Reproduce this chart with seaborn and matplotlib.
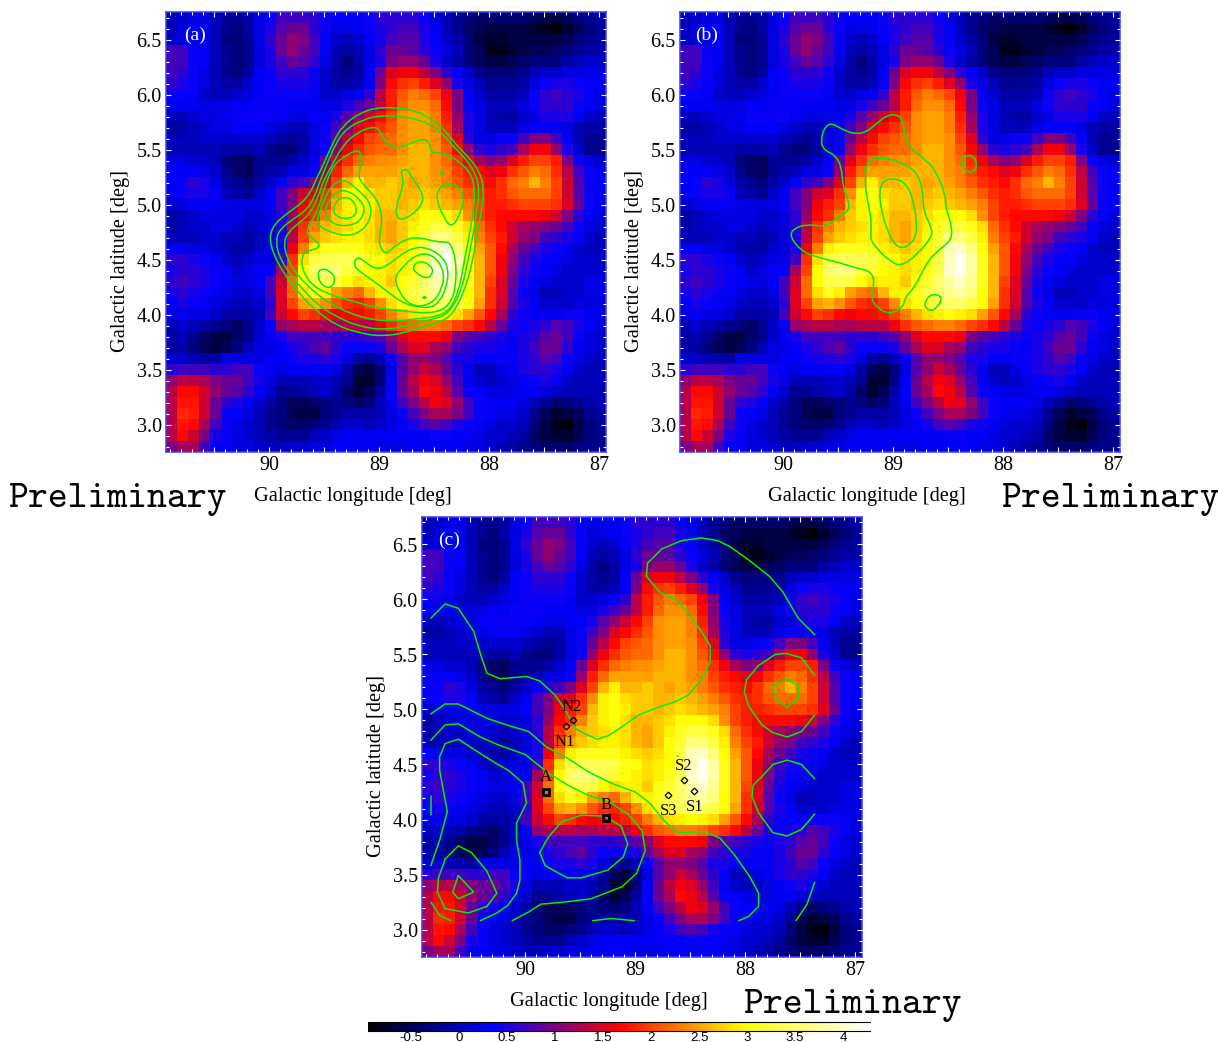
import matplotlib
matplotlib.use("Agg")
import matplotlib.pyplot as plt
from matplotlib.colors import LinearSegmentedColormap
from matplotlib.path import Path
from matplotlib.patches import PathPatch
from matplotlib.transforms import ScaledTranslation
import numpy as np
import seaborn as sns

sns.set_theme(style="white")
plt.rcParams['font.family'] = ['Liberation Serif', 'DejaVu Serif']

# ---- map values (rows top to bottom, b = 6.75 .. 2.75; columns l = 90.94 .. 86.94)
map_rows = [
[0.0,0.1,0.2,0.2,0.0,-0.2,-0.2,-0.1,0.2,0.4,0.7,0.7,0.7,0.6,0.4,0.3,0.3,0.3,0.4,0.6,0.6,0.6,0.6,0.4,0.2,0.0,-0.2,-0.3,-0.4,-0.4,-0.4,-0.4,-0.4,-0.5,-0.6,-0.6,-0.5,-0.3,-0.2,-0.1],
[0.0,0.2,0.3,0.3,0.0,-0.2,-0.3,-0.1,0.2,0.5,0.8,0.9,0.9,0.6,0.4,0.2,0.2,0.3,0.4,0.5,0.6,0.7,0.7,0.5,0.3,0.0,-0.2,-0.4,-0.5,-0.6,-0.6,-0.6,-0.6,-0.7,-0.8,-0.9,-0.7,-0.5,-0.3,-0.2],
[0.1,0.2,0.3,0.3,0.0,-0.3,-0.3,-0.2,0.2,0.6,0.9,1.1,1.0,0.7,0.3,0.1,0.0,0.1,0.3,0.5,0.7,0.8,0.8,0.5,0.3,0.1,-0.1,-0.3,-0.6,-0.7,-0.7,-0.6,-0.6,-0.6,-0.6,-0.6,-0.5,-0.3,-0.2,-0.1],
[0.7,0.7,0.4,0.3,0.0,-0.2,-0.3,-0.2,0.2,0.5,0.9,1.1,0.9,0.7,0.3,0.0,-0.1,0.0,0.2,0.6,0.9,0.9,0.8,0.6,0.4,0.2,0.0,-0.3,-0.5,-0.8,-0.8,-0.7,-0.6,-0.5,-0.5,-0.4,-0.3,-0.2,-0.1,-0.1],
[0.7,0.7,0.4,0.3,0.0,-0.2,-0.3,-0.2,0.2,0.5,0.7,0.9,0.8,0.6,0.2,-0.1,-0.3,-0.1,0.2,0.5,1.0,1.1,1.1,0.9,0.5,0.1,-0.1,-0.3,-0.5,-0.6,-0.6,-0.5,-0.4,-0.3,-0.3,-0.3,-0.1,0.0,0.1,0.1],
[0.7,0.6,0.4,0.2,0.0,-0.2,-0.3,-0.1,0.3,0.4,0.6,0.6,0.6,0.4,0.1,-0.1,-0.2,-0.1,0.3,0.9,1.5,1.6,1.6,1.3,1.0,0.6,0.3,0.1,-0.2,-0.3,-0.3,-0.3,-0.2,0.0,0.1,0.1,0.2,0.2,0.2,0.2],
[0.6,0.5,0.4,0.2,0.0,-0.1,-0.1,0.1,0.3,0.4,0.5,0.5,0.5,0.4,0.1,-0.1,-0.1,0.0,0.3,1.0,1.7,1.9,2.0,1.8,1.5,1.1,0.5,0.2,0.0,-0.2,-0.2,-0.2,-0.1,0.2,0.4,0.5,0.5,0.4,0.3,0.3],
[0.4,0.4,0.3,0.1,0.0,0.0,0.1,0.2,0.3,0.4,0.4,0.4,0.4,0.3,0.1,0.1,0.2,0.3,0.6,1.3,1.8,2.1,2.3,2.2,2.0,1.6,1.0,0.3,0.1,-0.1,-0.1,-0.1,0.0,0.4,0.6,0.7,0.6,0.5,0.3,0.2],
[0.3,0.3,0.3,0.2,0.2,0.2,0.3,0.3,0.4,0.4,0.4,0.3,0.3,0.3,0.2,0.2,0.5,0.7,0.9,1.3,1.8,2.2,2.4,2.4,2.2,1.7,1.0,0.4,0.2,0.0,0.0,0.0,0.2,0.4,0.6,0.6,0.6,0.4,0.3,0.2],
[0.0,0.0,0.1,0.2,0.2,0.3,0.4,0.4,0.4,0.4,0.3,0.2,0.2,0.3,0.3,0.5,0.8,1.1,1.4,1.7,2.0,2.4,2.5,2.5,2.3,1.8,1.1,0.5,0.2,0.0,-0.1,-0.1,0.1,0.2,0.5,0.5,0.5,0.3,0.1,0.0],
[-0.1,-0.1,0.0,0.1,0.2,0.2,0.3,0.3,0.3,0.2,0.1,0.0,0.0,0.2,0.4,0.7,1.0,1.5,1.7,1.9,2.1,2.4,2.5,2.5,2.3,1.9,1.2,0.5,0.2,0.0,0.0,0.0,0.2,0.3,0.3,0.3,0.2,0.0,-0.1,-0.1],
[0.0,0.0,0.0,0.1,0.1,0.1,0.1,0.1,0.1,0.0,-0.1,-0.2,-0.1,0.2,0.4,0.9,1.3,1.7,2.0,2.1,2.2,2.4,2.5,2.5,2.4,2.0,1.5,0.6,0.2,0.2,0.4,0.4,0.7,1.0,1.0,0.7,0.3,0.0,-0.2,-0.2],
[0.0,0.0,0.0,0.0,0.0,-0.1,-0.1,-0.1,0.0,-0.2,-0.3,-0.3,-0.1,0.2,0.4,1.1,1.6,1.9,2.1,2.2,2.2,2.4,2.6,2.6,2.4,2.1,1.7,1.1,0.6,0.5,0.6,0.7,1.2,1.6,1.6,1.1,0.5,0.1,-0.2,-0.2],
[0.2,0.2,0.1,0.1,0.0,-0.3,-0.4,-0.5,-0.2,-0.2,-0.2,-0.1,0.1,0.3,0.9,1.5,1.9,2.2,2.3,2.4,2.4,2.5,2.6,2.6,2.4,2.2,1.9,1.6,1.2,1.0,1.1,1.5,1.8,2.0,2.0,1.8,1.0,0.4,0.2,0.1],
[0.3,0.3,0.3,0.2,0.1,-0.2,-0.4,-0.5,-0.2,-0.1,0.0,0.2,0.2,0.4,1.1,1.8,2.2,2.5,2.5,2.5,2.5,2.6,2.6,2.6,2.4,2.3,2.0,1.8,1.7,1.5,1.6,1.9,2.1,2.3,2.2,1.9,1.3,0.7,0.4,0.3],
[0.3,0.4,0.6,0.5,0.2,-0.1,-0.2,-0.3,-0.1,0.1,0.3,0.6,0.7,1.0,1.5,2.0,2.6,2.9,2.6,2.6,2.7,2.6,2.5,2.6,2.5,2.3,2.1,1.9,1.8,1.7,1.9,2.2,2.3,2.6,2.3,2.0,1.4,0.8,0.4,0.3],
[0.3,0.4,0.5,0.5,0.4,0.0,-0.1,-0.2,0.1,0.3,0.7,1.0,1.4,1.5,1.9,2.4,2.9,3.0,2.8,2.7,2.7,2.6,2.6,2.7,2.6,2.5,2.3,2.1,1.9,1.8,1.9,2.1,2.2,2.2,2.2,2.0,1.4,0.8,0.4,0.3],
[0.1,0.2,0.3,0.3,0.3,0.2,0.2,0.2,0.2,0.3,0.7,1.0,1.6,1.8,2.0,2.6,2.9,3.0,2.9,2.7,2.7,2.6,2.7,2.8,2.7,2.6,2.5,2.3,2.0,1.8,1.8,1.9,2.0,2.0,2.0,1.9,1.5,0.9,0.4,0.3],
[-0.1,0.0,0.1,0.2,0.2,0.2,0.2,0.1,0.1,0.2,0.6,1.1,1.7,1.9,2.3,2.7,2.9,3.0,2.8,2.6,2.6,2.7,2.8,3.0,3.0,3.0,2.8,2.4,2.0,1.8,1.7,1.7,1.7,1.7,1.6,1.4,1.0,0.6,0.3,0.2],
[-0.1,0.0,0.1,0.1,0.2,0.2,0.1,0.0,0.1,0.2,0.6,1.3,1.9,2.3,2.6,2.7,2.8,2.9,2.8,2.6,2.5,2.7,2.9,3.1,3.3,3.3,3.1,2.8,2.2,1.9,1.7,1.4,1.2,1.1,1.0,0.9,0.7,0.4,0.2,0.1],
[0.0,0.0,0.0,0.1,0.1,0.0,0.0,-0.1,0.0,0.2,0.5,1.3,2.0,2.5,2.7,2.8,2.9,2.9,2.8,2.6,2.5,2.7,3.0,3.2,3.6,3.6,3.3,2.9,2.3,2.0,1.8,1.4,1.1,1.0,0.7,0.6,0.5,0.3,0.1,0.0],
[0.3,0.3,0.2,0.2,0.1,0.0,-0.1,-0.1,0.1,0.2,0.5,1.6,2.3,2.9,3.1,3.1,3.1,3.1,2.9,2.8,2.7,2.8,3.0,3.3,3.9,4.0,3.6,3.0,2.5,2.1,1.7,1.2,0.9,0.7,0.5,0.4,0.3,0.1,0.0,0.0],
[0.6,0.6,0.5,0.4,0.3,0.1,0.0,0.1,0.2,0.2,0.7,1.9,2.8,3.3,3.4,3.4,3.4,3.3,3.1,3.0,2.8,2.9,3.0,3.3,3.9,4.2,3.8,3.1,2.6,2.1,1.6,1.1,0.7,0.5,0.4,0.3,0.2,0.1,0.1,0.1],
[0.5,0.6,0.6,0.5,0.4,0.3,0.1,0.2,0.3,0.3,1.2,2.0,3.0,3.5,3.6,3.6,3.3,3.2,3.0,2.9,2.8,2.9,3.1,3.4,4.0,4.2,3.8,3.1,2.6,2.1,1.6,1.0,0.6,0.4,0.3,0.2,0.1,0.1,0.1,0.1],
[0.6,0.7,0.6,0.5,0.4,0.3,0.2,0.2,0.3,0.7,1.4,2.2,3.0,3.3,3.4,3.3,3.0,2.8,2.9,2.9,2.7,3.0,3.2,3.5,3.8,4.0,3.7,3.1,2.6,2.0,1.5,0.9,0.5,0.3,0.2,0.1,0.1,0.1,0.2,0.2],
[0.5,0.6,0.5,0.4,0.3,0.2,0.1,0.1,0.2,0.7,1.5,2.2,2.8,3.1,2.9,2.5,2.3,2.2,2.6,2.9,2.9,3.1,3.3,3.5,3.7,3.8,3.6,3.0,2.6,1.9,1.5,0.8,0.4,0.2,0.0,0.0,0.1,0.1,0.2,0.2],
[0.3,0.5,0.4,0.3,0.2,0.1,0.0,0.0,0.1,0.6,1.5,2.0,2.5,2.6,2.4,2.1,1.9,1.8,2.0,2.4,2.8,3.0,3.2,3.4,3.5,3.5,3.3,3.0,2.5,1.9,1.4,0.8,0.5,0.3,0.1,0.1,0.1,0.2,0.2,0.2],
[0.2,0.3,0.2,0.2,0.1,-0.1,-0.1,-0.1,0.0,0.7,1.4,1.7,2.0,1.9,1.7,1.6,1.7,1.7,1.8,2.0,2.3,2.6,2.8,2.9,3.0,2.9,2.8,2.5,2.1,1.7,1.2,0.6,0.4,0.3,0.3,0.3,0.4,0.4,0.3,0.2],
[0.0,0.1,0.0,-0.1,-0.2,-0.3,-0.4,-0.2,0.1,0.4,1.1,1.2,1.3,1.3,1.2,1.2,1.3,1.3,1.3,1.6,1.9,2.1,2.2,2.3,2.3,2.2,2.0,1.9,1.7,1.3,0.9,0.5,0.4,0.5,0.6,0.8,0.7,0.5,0.3,0.2],
[-0.1,0.0,-0.2,-0.4,-0.6,-0.6,-0.4,-0.2,0.1,0.3,0.5,0.7,0.7,0.7,0.7,0.6,0.6,0.6,0.7,0.8,1.1,1.5,1.7,1.7,1.7,1.6,1.0,0.8,0.7,0.6,0.5,0.4,0.5,0.6,0.8,0.9,0.7,0.4,0.2,0.1],
[-0.1,-0.1,-0.3,-0.5,-0.6,-0.5,-0.3,0.0,0.2,0.2,0.3,0.5,0.6,0.75,0.85,0.6,0.4,0.4,0.4,0.5,0.9,1.2,1.5,1.5,1.2,1.1,0.7,0.6,0.5,0.5,0.4,0.3,0.5,0.7,0.9,0.9,0.6,0.3,0.2,0.1],
[0.1,0.1,0.0,-0.1,-0.1,0.2,0.2,0.2,0.2,0.3,0.3,0.4,0.5,0.5,0.6,0.5,0.2,-0.1,-0.2,0.0,0.4,0.8,1.1,1.1,1.0,0.8,0.5,0.5,0.3,0.3,0.4,0.4,0.5,0.6,0.8,0.7,0.4,0.2,0.1,0.0],
[0.6,0.7,0.7,0.7,0.6,0.6,0.7,0.7,0.4,0.3,0.2,0.3,0.3,0.3,0.3,0.2,-0.1,-0.5,-0.6,-0.3,0.2,0.8,1.1,1.4,1.2,0.9,0.6,0.3,0.0,0.0,0.2,0.3,0.5,0.6,0.6,0.5,0.3,0.1,0.0,0.0],
[1.1,1.3,1.3,1.2,1.0,0.9,0.9,0.7,0.5,0.2,0.0,0.0,0.0,0.1,0.1,0.0,-0.2,-0.7,-0.7,-0.3,0.3,0.9,1.3,1.6,1.5,1.1,0.7,0.3,0.1,0.0,0.1,0.2,0.3,0.4,0.5,0.3,0.1,0.0,0.0,0.0],
[1.3,1.7,1.7,1.4,1.1,0.9,0.8,0.6,0.3,0.1,-0.2,-0.2,-0.1,0.0,0.1,-0.1,-0.4,-0.7,-0.5,-0.1,0.3,0.9,1.2,1.7,1.6,1.3,0.8,0.4,0.3,0.2,0.2,0.2,0.3,0.3,0.2,0.1,0.0,0.0,0.0,0.0],
[1.3,1.75,1.75,1.4,0.9,0.6,0.5,0.3,0.1,-0.1,-0.3,-0.5,-0.5,-0.4,-0.3,-0.2,-0.3,-0.4,-0.3,0.0,0.3,0.7,1.0,1.3,1.6,1.5,1.1,0.7,0.4,0.3,0.3,0.3,0.2,0.0,-0.2,-0.4,-0.3,-0.2,-0.1,0.0],
[1.3,1.85,1.8,1.4,0.9,0.4,0.3,0.2,0.0,-0.2,-0.3,-0.5,-0.6,-0.6,-0.3,-0.2,-0.1,-0.1,-0.1,0.0,0.2,0.4,0.7,1.0,1.2,1.2,1.0,0.7,0.4,0.3,0.2,0.2,0.1,-0.2,-0.5,-0.7,-0.6,-0.5,-0.2,-0.1],
[1.3,1.75,1.7,1.2,0.7,0.4,0.2,0.1,0.0,-0.2,-0.3,-0.4,-0.4,-0.3,-0.2,0.0,0.1,0.1,0.0,0.1,0.2,0.3,0.5,0.7,0.8,0.7,0.5,0.4,0.3,0.2,0.1,0.1,0.0,-0.3,-0.6,-0.8,-0.9,-0.6,-0.3,-0.2],
[1.3,1.7,1.4,1.0,0.5,0.4,0.2,0.1,0.0,-0.1,-0.2,-0.2,-0.2,0.0,0.1,0.2,0.3,0.3,0.3,0.3,0.3,0.3,0.3,0.3,0.4,0.4,0.3,0.3,0.2,0.1,0.1,0.0,-0.1,-0.4,-0.6,-0.7,-0.7,-0.5,-0.3,-0.2],
[1.0,1.2,1.2,0.7,0.3,0.3,0.2,0.2,0.1,0.0,0.0,0.1,0.1,0.2,0.2,0.3,0.3,0.3,0.3,0.2,0.2,0.2,0.3,0.3,0.3,0.3,0.3,0.2,0.2,0.1,0.0,-0.1,-0.2,-0.3,-0.4,-0.4,-0.4,-0.3,-0.2,-0.2],
]

# ---- contours in (l, b) degrees
contours_a = [
[(90.00,4.69),(89.965,4.81),(89.84,4.92),(89.72,5.00),(89.63,5.10),(89.57,5.24),(89.51,5.36),(89.42,5.57),(89.33,5.72),(89.18,5.83),(89.03,5.88),(88.87,5.88),(88.69,5.86),(88.51,5.77),(88.39,5.66),(88.30,5.54),(88.18,5.42),(88.09,5.30),(88.05,5.15),(88.07,4.94),(88.12,4.69),(88.16,4.45),(88.22,4.24),(88.30,4.06),(88.39,3.95),(88.60,3.89),(88.75,3.84),(88.96,3.80),(89.18,3.83),(89.39,3.90),(89.57,4.03),(89.72,4.18),(89.86,4.36),(89.96,4.54)],
[(89.94,4.69),(89.90,4.78),(89.78,4.87),(89.66,4.95),(89.59,5.07),(89.54,5.21),(89.48,5.36),(89.39,5.57),(89.30,5.69),(89.15,5.77),(88.995,5.81),(88.81,5.80),(88.63,5.77),(88.48,5.69),(88.39,5.60),(88.31,5.51),(88.21,5.41),(88.12,5.27),(88.09,5.12),(88.12,4.90),(88.16,4.66),(88.21,4.42),(88.25,4.24),(88.33,4.07),(88.42,3.98),(88.60,3.94),(88.78,3.89),(88.96,3.86),(89.18,3.89),(89.37,3.97),(89.54,4.07),(89.68,4.21),(89.81,4.36),(89.92,4.54)],
[(89.87,4.65),(89.83,4.75),(89.72,4.84),(89.63,4.92),(89.56,5.06),(89.51,5.21),(89.43,5.36),(89.33,5.54),(89.21,5.65),(89.06,5.71),(88.995,5.68),(88.95,5.57),(88.84,5.50),(88.69,5.57),(88.57,5.60),(88.54,5.53),(88.53,5.47),(88.42,5.47),(88.27,5.39),(88.16,5.27),(88.13,5.12),(88.15,4.90),(88.19,4.69),(88.24,4.42),(88.28,4.21),(88.36,4.04),(88.48,3.98),(88.66,3.96),(88.87,3.94),(89.06,3.95),(89.27,4.01),(89.45,4.10),(89.60,4.21),(89.75,4.36),(89.84,4.51)],
[(89.70,4.55),(89.64,4.58),(89.54,4.61),(89.56,4.66),(89.65,4.72),(89.66,4.78),(89.59,4.89),(89.54,5.01),(89.50,5.15),(89.42,5.36),(89.30,5.45),(89.19,5.50),(89.16,5.44),(89.18,5.30),(89.19,5.24),(89.12,5.15),(89.03,5.06),(88.98,4.93),(88.98,4.80),(89.01,4.65),(88.95,4.54),(88.86,4.62),(88.75,4.69),(88.63,4.70),(88.48,4.66),(88.40,4.66),(88.36,4.65),(88.32,4.56),(88.30,4.41),(88.31,4.25),(88.34,4.13),(88.42,4.04),(88.57,4.01),(88.78,4.03),(89.03,4.06),(89.27,4.13),(89.48,4.19),(89.63,4.28),(89.71,4.43)],
[(89.57,4.83),(89.54,4.95),(89.48,5.09),(89.42,5.19),(89.31,5.23),(89.19,5.13),(89.09,5.03),(89.07,4.91),(89.13,4.78),(89.27,4.71),(89.42,4.74),(89.51,4.78)],
[(89.50,4.90),(89.47,5.03),(89.37,5.13),(89.27,5.12),(89.16,5.03),(89.13,4.94),(89.19,4.83),(89.33,4.80),(89.43,4.83)],
[(89.42,4.95),(89.39,5.04),(89.31,5.07),(89.24,5.04),(89.20,4.95),(89.24,4.88),(89.33,4.87),(89.40,4.90)],
[(88.81,5.31),(88.74,5.32),(88.71,5.25),(88.62,5.13),(88.60,5.03),(88.66,4.94),(88.78,4.86),(88.84,4.875),(88.85,4.98),(88.80,5.12),(88.78,5.22)],
[(88.48,5.04),(88.47,5.13),(88.39,5.20),(88.28,5.16),(88.23,5.07),(88.25,4.95),(88.34,4.78),(88.42,4.89)],
[(88.45,5.31),(88.40,5.29),(88.44,5.27)],
[(89.24,4.45),(89.20,4.53),(89.12,4.47),(89.03,4.41),(88.93,4.44),(88.81,4.54),(88.69,4.61),(88.57,4.61),(88.43,4.53),(88.37,4.41),(88.39,4.25),(88.45,4.12),(88.53,4.06),(88.66,4.07),(88.78,4.10),(88.93,4.21),(89.06,4.31),(89.16,4.375)],
[(88.87,4.33),(88.78,4.44),(88.69,4.53),(88.57,4.56),(88.47,4.50),(88.41,4.375),(88.43,4.24),(88.50,4.12),(88.62,4.07),(88.74,4.10),(88.81,4.19)],
[(88.70,4.42),(88.66,4.48),(88.59,4.48),(88.51,4.42),(88.53,4.345),(88.59,4.33),(88.66,4.375)],
[(89.56,4.405),(89.48,4.415),(89.40,4.345),(89.42,4.26),(89.48,4.24),(89.55,4.30)],
[(88.61,4.16),(88.57,4.16),(88.59,4.14)],
]
contours_b = [
[(89.94,4.71),(89.91,4.78),(89.79,4.82),(89.64,4.80),(89.58,4.83),(89.49,4.89),(89.40,4.95),(89.41,5.04),(89.46,5.16),(89.47,5.34),(89.53,5.45),(89.64,5.50),(89.66,5.60),(89.62,5.71),(89.56,5.74),(89.46,5.68),(89.35,5.64),(89.24,5.66),(89.15,5.74),(89.06,5.81),(88.97,5.82),(88.91,5.77),(88.90,5.62),(88.85,5.51),(88.70,5.40),(88.61,5.30),(88.53,5.10),(88.52,4.95),(88.47,4.81),(88.47,4.68),(88.58,4.59),(88.68,4.50),(88.76,4.34),(88.83,4.22),(88.89,4.16),(88.91,4.07),(89.03,4.00),(89.15,4.06),(89.21,4.16),(89.17,4.28),(89.20,4.39),(89.33,4.42),(89.52,4.48),(89.73,4.53),(89.85,4.59)],
[(89.25,5.31),(89.23,5.40),(89.12,5.43),(88.94,5.39),(88.79,5.30),(88.73,5.13),(88.73,4.95),(88.65,4.78),(88.65,4.71),(88.76,4.57),(88.93,4.43),(89.05,4.50),(89.15,4.60),(89.21,4.68),(89.20,4.80),(89.21,4.92),(89.26,5.16)],
[(89.13,5.12),(89.09,5.22),(88.99,5.24),(88.88,5.19),(88.82,5.04),(88.79,4.86),(88.79,4.72),(88.85,4.63),(88.93,4.60),(89.00,4.65),(89.06,4.78),(89.11,4.95)],
[(88.39,5.37),(88.35,5.45),(88.27,5.44),(88.24,5.37),(88.26,5.30),(88.33,5.29)],
[(88.72,4.10),(88.67,4.18),(88.58,4.18),(88.56,4.12),(88.64,4.03),(88.70,4.05)],
]
contours_c = [
[(87.37,5.68),(87.52,5.83),(87.66,6.07),(87.78,6.21),(87.97,6.36),(88.14,6.48),(88.25,6.535),(88.40,6.56),(88.58,6.535),(88.76,6.46),(88.89,6.33),(88.90,6.21),(88.78,6.07),(88.64,6.00),(88.52,5.875),(88.40,5.71),(88.32,5.58),(88.32,5.435),(88.40,5.27),(88.52,5.13),(88.64,5.07),(88.82,5.01),(88.97,4.95),(89.125,4.84),(89.25,4.76),(89.35,4.73),(89.46,4.78),(89.55,4.83),(89.64,5.00),(89.73,5.13),(89.87,5.26),(89.99,5.30),(90.23,5.28),(90.35,5.33),(90.41,5.51),(90.47,5.71),(90.61,5.92),(90.73,5.96),(90.86,5.83)],
[(90.86,4.96),(90.73,5.05),(90.61,5.05),(90.35,4.92),(90.14,4.85),(89.97,4.80),(89.81,4.66),(89.62,4.56),(89.43,4.435),(89.22,4.33),(89.00,4.25),(88.87,4.15),(88.73,3.98),(88.61,3.88),(88.37,3.89),(88.23,3.83),(88.10,3.68),(87.96,3.48),(87.88,3.33),(87.88,3.21),(87.97,3.12),(88.06,3.08)],
[(90.86,4.72),(90.73,4.86),(90.61,4.87),(90.41,4.75),(90.25,4.68),(90.00,4.59),(89.79,4.42),(89.61,4.31),(89.43,4.22),(89.22,4.15),(89.06,4.04),(88.94,3.90),(88.91,3.72),(88.99,3.51),(89.12,3.39),(89.40,3.28),(89.64,3.25),(89.86,3.23),(89.97,3.16),(90.12,3.08)],
[(90.86,3.58),(90.78,3.81),(90.71,4.07),(90.78,4.45),(90.78,4.57),(90.73,4.69),(90.61,4.73),(90.41,4.60),(90.25,4.50),(90.16,4.45),(90.02,4.33),(89.99,4.15),(90.08,3.97),(90.08,3.81),(90.05,3.63),(90.05,3.45),(90.08,3.33),(90.16,3.22),(90.26,3.15),(90.41,3.08)],
[(90.86,4.21),(90.86,4.04)],
[(89.87,3.70),(89.79,3.84),(89.67,3.98),(89.49,4.04),(89.28,4.03),(89.13,3.94),(89.07,3.78),(89.11,3.66),(89.25,3.54),(89.49,3.47),(89.62,3.47),(89.82,3.58),(89.87,3.70)],
[(90.73,3.64),(90.61,3.76),(90.49,3.70),(90.35,3.53),(90.26,3.33),(90.35,3.21),(90.52,3.15),(90.73,3.19),(90.80,3.34),(90.79,3.47),(90.73,3.64)],
[(90.61,3.49),(90.47,3.34),(90.61,3.28),(90.66,3.34),(90.61,3.49)],
[(90.86,3.25),(90.78,3.13),(90.68,3.08)],
[(89.39,3.08),(89.22,3.10),(89.01,3.08)],
[(87.54,3.08),(87.44,3.23),(87.37,3.43)],
[(87.37,5.31),(87.49,5.47),(87.63,5.51),(87.73,5.50),(87.88,5.40),(87.99,5.27),(88.01,5.16),(87.97,5.03),(87.85,4.86),(87.75,4.79),(87.62,4.75),(87.49,4.80),(87.37,4.95)],
[(87.75,5.21),(87.62,5.28),(87.52,5.21),(87.52,5.10),(87.62,5.02),(87.72,5.09),(87.75,5.21)],
[(87.37,4.37),(87.49,4.50),(87.62,4.54),(87.75,4.50),(87.85,4.39),(87.93,4.31),(87.94,4.21),(87.88,4.06),(87.75,3.88),(87.62,3.85),(87.49,3.91),(87.37,4.05)],
[(88.62,4.58),(88.615,4.575)],
]

# ---- sources
square_names = ["A", "B"]
square_l = [89.81, 89.27]
square_b = [4.25, 4.01]
diamond_names = ["N1", "N2", "S1", "S2", "S3"]
diamond_l = [89.63, 89.57, 88.465, 88.56, 88.70]
diamond_b = [4.85, 4.90, 4.26, 4.36, 4.22]
label_names = ["A", "B", "N1", "N2", "S1", "S2", "S3"]
label_l = [89.81, 89.27, 89.64, 89.58, 88.46, 88.56, 88.70]
label_b = [4.385, 4.135, 4.705, 5.025, 4.115, 4.485, 4.075]

cbar_ticks = [-0.5, 0, 0.5, 1, 1.5, 2, 2.5, 3, 3.5, 4]
cbar_labels = ["-0.5", "0", "0.5", "1", "1.5", "2", "2.5", "3", "3.5", "4"]
x_major = [90.5, 90, 89.5, 89, 88.5, 88, 87.5, 87]
x_labels = {90: "90", 89: "89", 88: "88", 87: "87"}
y_major = [6.5, 6.0, 5.5, 5.0, 4.5, 4.0, 3.5, 3.0]

VMIN, VMAX = -0.95, 4.28
L0, B0 = 90.94, 6.75
W, H = 1218, 1042
GREEN = "#08ea08"

cmap = LinearSegmentedColormap.from_list(
    "bluered", ["#000000", "#0000ff", "#ff0000", "#ffff00", "#ffffff"], N=256)
data = np.array(map_rows, dtype=float)


def col(l):
    return (L0 - np.asarray(l, dtype=float)) * 10


def row(b):
    return (B0 - np.asarray(b, dtype=float)) * 10


def box(left, top, right, bottom):
    return [left / W, 1 - bottom / H, (right - left) / W, (bottom - top) / H]


def smooth_closed(ax, pts):
    """Closed quadratic-spline outline through the midpoints of the read vertices."""
    x, y = col([p[0] for p in pts]), row([p[1] for p in pts])
    xy = np.column_stack([x, y])
    mids = (xy + np.roll(xy, -1, axis=0)) / 2
    verts = [mids[-1]]
    codes = [Path.MOVETO]
    for v, m in zip(xy, mids):
        verts += [v, m]
        codes += [Path.CURVE3, Path.CURVE3]
    ax.add_patch(PathPatch(Path(verts, codes), fc="none", ec=GREEN, lw=1.1, zorder=3))


def style_map(ax, tag, tag_x):
    ax.set_axisbelow(False)
    ax.set_xlim(0, 40)
    ax.set_ylim(40, 0)
    ax.set_xticks(col(x_major))
    ax.set_xticklabels([x_labels.get(v, "") for v in x_major], rotation=0)
    ax.set_yticks(row(y_major))
    ax.set_yticklabels([f"{v:.1f}" for v in y_major], rotation=0, va="center")
    ax.set_xticks(np.arange(0.4, 40, 1.0), minor=True)
    ax.set_yticks(np.arange(0.5, 40, 1.0), minor=True)
    ax.tick_params(axis="both", which="major", direction="in", length=3.6, width=0.8,
                   color="white", top=True, right=True, bottom=True, left=True,
                   labelsize=14.5, labelcolor="black", pad=3)
    ax.tick_params(axis="both", which="minor", direction="in", length=2.0, width=0.8,
                   color="white", top=True, right=True, bottom=True, left=True)
    shift = ScaledTranslation(0, -3 / 100, fig.dpi_scale_trans)
    for lab in ax.get_yticklabels():
        lab.set_transform(lab.get_transform() + shift)
    for s in ax.spines.values():
        s.set_visible(True)
        s.set_color("#3c3cf0")
        s.set_linewidth(1.1)
    ax.set_xlabel("Galactic longitude [deg]", fontsize=14.7, color="black", va="center")
    ax.set_ylabel("Galactic latitude [deg]", fontsize=14.7, color="black", va="center")
    ax.xaxis.set_label_coords(0.425, -0.102)
    ax.yaxis.set_label_coords(-0.104, 0.434)
    ax.text(tag_x, 0.948, tag, transform=ax.transAxes, color="white", fontsize=14,
            ha="left", va="center")


fig = plt.figure(figsize=(W / 100, H / 100), dpi=100, facecolor="white")
ax_a = fig.add_axes(box(166, 12, 606, 452))
ax_b = fig.add_axes(box(680, 12, 1120, 452))
ax_c = fig.add_axes(box(422, 517, 862, 957))
ax_cb = fig.add_axes(box(368, 1022, 870, 1031))

sns.heatmap(data, ax=ax_a, cmap=cmap, vmin=VMIN, vmax=VMAX, cbar=False, square=False)
sns.heatmap(data, ax=ax_b, cmap=cmap, vmin=VMIN, vmax=VMAX, cbar=False, square=False)
sns.heatmap(data, ax=ax_c, cmap=cmap, vmin=VMIN, vmax=VMAX, cbar_ax=ax_cb,
            cbar_kws={"orientation": "horizontal", "ticks": cbar_ticks}, square=False)

for ax, tag, tx in zip((ax_a, ax_b, ax_c), ("(a)", "(b)", "(c)"), (0.041, 0.034, 0.036)):
    style_map(ax, tag, tx)

for pts in contours_a:
    smooth_closed(ax_a, pts)
for pts in contours_b:
    smooth_closed(ax_b, pts)
for pts in contours_c:
    ax_c.plot(col([p[0] for p in pts]), row([p[1] for p in pts]), color=GREEN, lw=1.1, zorder=3)

ax_c.plot(col(square_l), row(square_b), ls="none", marker="s", ms=4.6, mfc="none",
          mec="black", mew=2.0, zorder=4)
ax_c.plot(col(diamond_l), row(diamond_b), ls="none", marker="D", ms=3.4, mfc="none",
          mec="black", mew=0.9, zorder=4)
for name, l, b in zip(label_names, label_l, label_b):
    ax_c.text(col(l), row(b), name, color="black", fontsize=12, ha="center", va="center", zorder=5)

# colour bar
ax_cb.xaxis.set_ticks_position("bottom")
ax_cb.set_xticks(cbar_ticks)
ax_cb.set_xticklabels(cbar_labels, fontsize=9.5, family=["Liberation Sans", "DejaVu Sans"])
ax_cb.tick_params(axis="x", length=0, pad=0.8, labelcolor="black")
ax_cb.tick_params(axis="y", length=0)
ax_cb.set_yticks([])
for side, s in ax_cb.spines.items():
    s.set_visible(side in ("top", "bottom"))
    s.set_color("black")
    s.set_linewidth(0.8)

# stamps
for x, y in ((8, 499), (1001, 499), (743, 1005)):
    fig.text(x / W, 1 - y / H, "Preliminary", family="cmtt10", fontsize=27.2,
             color="black", ha="left", va="center")

fig.savefig("out.png", dpi=100, facecolor="white")
